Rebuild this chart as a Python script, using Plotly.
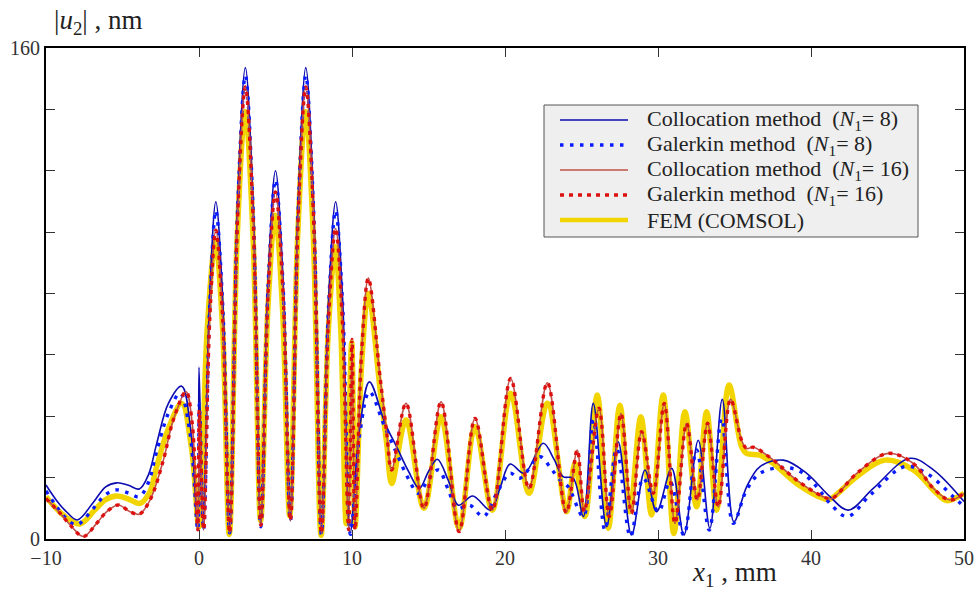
import plotly.graph_objects as go

# Surface displacement amplitude |u2| (nm) versus coordinate x1 (mm).
# Each series is a list of (x1, |u2|) pairs.
colloc8 = [
    (-10, 17.6), (-9.3, 12.5), (-8.65, 8.8), (-7.95, 6.2), (-6.9, 12.0), (-6.1, 17.0),
    (-5.38, 18.3), (-4.6, 17.5), (-3.9, 16.3), (-3.3, 21.0), (-2.77, 31.0), (-2.0, 44.2),
    (-1.13, 49.8), (-0.55, 36.0), (-0.08, 3.0), (0.0, 56.0), (0.28, 3.0), (0.69, 78.0),
    (1.1, 109.9), (1.55, 78.0), (2.0, 2.5), (2.52, 109.0), (3.03, 153.6), (3.54, 109.0),
    (4.04, 4.5), (4.52, 85.0), (5.0, 120.0), (5.49, 85.0), (5.97, 6.0), (6.48, 109.0),
    (6.98, 153.6), (7.49, 109.0), (8.0, 1.8), (8.47, 78.0), (8.93, 109.9), (9.39, 78.0),
    (9.88, 2.0), (10.5, 36.0), (11.14, 51.2), (12.16, 37.7), (12.92, 30.0), (13.7, 22.0),
    (14.4, 16.5), (15.0, 22.0), (15.58, 26.0), (16.3, 19.0), (16.95, 11.0), (17.89, 14.0),
    (19.05, 9.4), (19.7, 17.0), (20.33, 24.4), (21.26, 21.4), (22.5, 31.2), (23.2, 26.0),
    (23.8, 20.3), (24.46, 19.8), (25.12, 7.3), (25.77, 44.2), (26.64, 4.0), (27.4, 31.7),
    (28.27, 1.3), (29.15, 22.5), (29.91, 8.9), (30.89, 23.0), (31.69, 1.3), (32.63, 32.2),
    (33.39, 3.5), (34.2, 45.5), (34.96, 5.6), (35.79, 17.0), (36.67, 23.6), (38.19, 25.7),
    (39.72, 21.4), (41.24, 13.8), (42.44, 9.4), (44.07, 16.5), (46.47, 26.3), (48.0, 22.5),
    (50.0, 12.2),
]

galerkin8 = [
    (-10, 15.7), (-9.3, 10.5), (-8.7, 6.8), (-8.0, 4.6), (-6.9, 10.0), (-6.1, 14.5),
    (-5.38, 16.0), (-4.6, 15.0), (-3.9, 13.8), (-3.3, 18.5), (-2.8, 28.0), (-2.0, 41.0),
    (-1.24, 47.5), (-0.6, 35.0), (-0.08, 3.0), (0.02, 44.0), (0.3, 3.0), (0.7, 76.0),
    (1.1, 107.0), (1.55, 76.0), (2.0, 2.0), (2.52, 107.0), (3.03, 151.0), (3.54, 107.0),
    (4.04, 4.0), (4.52, 83.0), (5.0, 117.0), (5.49, 83.0), (5.97, 6.0), (6.48, 107.0),
    (6.98, 151.0), (7.49, 107.0), (8.0, 1.5), (8.47, 76.0), (8.93, 107.0), (9.39, 76.0),
    (9.9, 1.5), (10.5, 34.0), (11.14, 48.0), (12.1, 37.0), (12.92, 27.9), (13.7, 19.5),
    (14.34, 14.9), (15.0, 19.5), (15.65, 22.5), (16.3, 16.0), (16.85, 10.0), (17.7, 11.0),
    (18.58, 7.3), (19.46, 14.9), (20.33, 21.4), (20.98, 19.8), (22.29, 26.8), (23.0, 23.0),
    (23.6, 19.2), (24.13, 17.0), (25.12, 7.3), (25.77, 38.8), (26.53, 2.9), (27.3, 29.5),
    (28.2, 0.8), (29.04, 19.8), (30.02, 8.9), (30.78, 18.7), (31.69, 1.3), (32.52, 29.0),
    (33.35, 2.9), (34.16, 39.3), (34.92, 5.1), (35.79, 16.0), (36.67, 21.4), (38.19, 23.3),
    (39.3, 22.0), (40.37, 17.0), (41.24, 11.6), (42.37, 7.3), (43.86, 14.3), (46.14, 23.6),
    (47.56, 21.4), (49.3, 13.8), (50.0, 10.5),
]

colloc16 = [
    (-10, 13.2), (-9.08, 8.4), (-8.32, 4.0), (-7.56, 0.8), (-6.69, 5.1), (-6.03, 8.9),
    (-5.27, 11.1), (-4.51, 8.9), (-3.9, 8.1), (-3.2, 12.7), (-2.33, 25.7), (-1.68, 38.8),
    (-0.85, 48.0), (-0.45, 38.0), (-0.08, 3.0), (0.02, 42.0), (0.3, 3.0), (0.7, 71.4),
    (1.1, 100.6), (1.55, 71.4), (2.0, 2.0), (2.52, 104.6), (3.03, 147.3), (3.54, 104.6),
    (4.04, 4.5), (4.52, 80.3), (5.0, 113.1), (5.49, 80.3), (5.97, 6.0), (6.48, 104.6),
    (6.98, 147.3), (7.49, 104.6), (8.0, 1.8), (8.47, 71.9), (8.93, 101.2), (9.36, 71.9),
    (9.78, 3.0), (10.0, 65.0), (10.2, 3.0), (10.62, 60.0), (11.07, 85.0), (11.83, 52.9),
    (12.27, 34.4), (12.59, 22.5), (13.53, 44.2), (14.7, 10.0), (15.82, 44.7), (17.0, 2.4),
    (18.04, 39.3), (19.17, 9.4), (20.37, 52.3), (21.57, 16.5), (22.77, 50.9), (24.0, 8.6),
    (24.72, 29.0), (25.18, 9.0), (26.14, 42.6), (26.81, 7.3), (27.58, 40.9), (28.27, 8.4),
    (28.93, 35.0), (29.69, 14.9), (30.41, 44.2), (31.11, 5.1), (31.87, 37.7), (32.57, 12.7),
    (33.24, 37.7), (33.94, 10.5), (34.74, 45.5), (35.46, 32.2), (35.79, 29.5), (36.23, 29.9),
    (37.54, 25.7), (39.06, 19.2), (40.8, 13.8), (41.35, 13.2), (42.99, 21.4), (45.05, 27.9),
    (46.69, 24.6), (48.0, 16.5), (49.09, 12.7), (50.0, 14.9),
]

# With N1 = 16 both methods give the same curve at this scale
galerkin16 = [
    (-10, 13.2), (-9.08, 8.4), (-8.32, 4.0), (-7.56, 0.8), (-6.69, 5.1), (-6.03, 8.9),
    (-5.27, 11.1), (-4.51, 8.9), (-3.9, 8.1), (-3.2, 12.7), (-2.33, 25.7), (-1.68, 38.8),
    (-0.85, 48.0), (-0.45, 38.0), (-0.08, 3.0), (0.02, 42.0), (0.3, 3.0), (0.7, 71.4),
    (1.1, 100.6), (1.55, 71.4), (2.0, 2.0), (2.52, 104.6), (3.03, 147.3), (3.54, 104.6),
    (4.04, 4.5), (4.52, 80.3), (5.0, 113.1), (5.49, 80.3), (5.97, 6.0), (6.48, 104.6),
    (6.98, 147.3), (7.49, 104.6), (8.0, 1.8), (8.47, 71.9), (8.93, 101.2), (9.36, 71.9),
    (9.78, 3.0), (10.0, 65.0), (10.2, 3.0), (10.62, 60.0), (11.07, 85.0), (11.83, 52.9),
    (12.27, 34.4), (12.59, 22.5), (13.53, 44.2), (14.7, 10.0), (15.82, 44.7), (17.0, 2.4),
    (18.04, 39.3), (19.17, 9.4), (20.37, 52.3), (21.57, 16.5), (22.77, 50.9), (24.0, 8.6),
    (24.72, 29.0), (25.18, 9.0), (26.14, 42.6), (26.81, 7.3), (27.58, 40.9), (28.27, 8.4),
    (28.93, 35.0), (29.69, 14.9), (30.41, 44.2), (31.11, 5.1), (31.87, 37.7), (32.57, 12.7),
    (33.24, 37.7), (33.94, 10.5), (34.74, 45.5), (35.46, 32.2), (35.79, 29.5), (36.23, 29.9),
    (37.54, 25.7), (39.06, 19.2), (40.8, 13.8), (41.35, 13.2), (42.99, 21.4), (45.05, 27.9),
    (46.69, 24.6), (48.0, 16.5), (49.09, 12.7), (50.0, 14.9),
]

fem = [
    (-10, 13.8), (-8.8, 7.5), (-7.78, 4.9), (-6.8, 9.5), (-6.1, 12.8), (-5.38, 14.0),
    (-4.6, 13.0), (-3.86, 11.6), (-3.2, 15.5), (-2.8, 23.0), (-2.0, 36.0), (-1.13, 44.2),
    (-0.5, 30.0), (0.0, 4.0), (0.54, 68.7), (1.08, 96.8), (1.54, 68.7), (1.98, 1.5),
    (2.5, 98.8), (3.02, 139.2), (3.53, 98.8), (4.03, 6.0), (4.5, 74.9), (4.98, 105.5),
    (5.46, 74.9), (5.93, 7.5), (6.45, 98.8), (6.97, 139.2), (7.47, 98.8), (7.98, 1.2),
    (8.45, 67.6), (8.91, 95.2), (9.27, 67.6), (9.62, 5.0), (9.98, 64.0), (10.2, 4.0),
    (10.62, 56.0), (11.07, 80.0), (11.83, 49.0), (12.27, 31.0), (12.6, 18.1), (13.53, 38.8),
    (14.7, 10.0), (15.82, 39.8), (17.0, 3.5), (18.04, 36.6), (19.17, 9.4), (20.37, 47.5),
    (21.57, 14.9), (22.77, 44.2), (24.03, 8.9), (24.57, 24.6), (25.22, 7.3), (26.03, 46.9),
    (26.75, 3.5), (27.51, 43.6), (28.16, 8.9), (28.88, 39.8), (29.58, 7.8), (30.34, 46.9),
    (31.04, 1.8), (31.76, 41.5), (32.52, 10.5), (33.18, 41.5), (33.83, 9.4), (34.64, 50.2),
    (35.46, 30.1), (35.79, 27.9), (36.66, 27.3), (37.54, 24.6), (39.06, 18.1), (40.8, 13.2),
    (41.2, 12.9), (42.99, 20.3), (44.84, 25.7), (46.69, 22.5), (48.21, 14.9), (48.87, 12.5),
    (50.0, 14.9),
]

x_ticks = [-10, 0, 10, 20, 30, 40, 50]
y_ticks = [0, 160]
y_minor_step = 20

SERIF = "Liberation Serif, Times New Roman, serif"
W, H = 979, 595
M_L, M_R, M_T, M_B = 46, 15, 48, 56
PLOT_W, PLOT_H = W - M_L - M_R, H - M_T - M_B


def px_x(p):
    """Horizontal pixel position -> paper fraction."""
    return (p - M_L) / PLOT_W


def px_y(p):
    """Vertical pixel position (from top) -> paper fraction."""
    return (H - M_B - p) / PLOT_H


def xy(pairs):
    xs, ys = zip(*pairs)
    return list(xs), list(ys)


# (data, legend label, colour, width, dash, legend row); traces drawn in list order
series = [
    (fem, "FEM (COMSOL)", "#f2d500", 5.5, "solid", 4),
    (colloc8, "Collocation method  (<i>N</i><sub>1</sub>= 8)", "#0b0bb0", 1.6, "solid", 0),
    (galerkin8, "Galerkin method  (<i>N</i><sub>1</sub>= 8)", "#0a1cff", 3.4, "3.5px,6.5px", 1),
    (colloc16, "Collocation method  (<i>N</i><sub>1</sub>= 16)", "#c0504a", 1.6, "solid", 2),
    (galerkin16, "Galerkin method  (<i>N</i><sub>1</sub>= 16)", "#dd1010", 3.4, "4px,5px", 3),
]

fig = go.Figure()
for data, name, color, width, dash, row in series:
    xs, ys = xy(data)
    fig.add_trace(go.Scatter(
        x=xs, y=ys, mode="lines", name=name, showlegend=False,
        line=dict(color=color, width=width, dash=dash, shape="spline", smoothing=1.0),
    ))

# Legend box drawn as a framed panel with line samples and labels
LEG_L, LEG_R, LEG_T, LEG_B = 544, 918, 105, 237
ROW_Y = [120, 145, 170, 195, 220]
SAMPLE_L, SAMPLE_R, TEXT_L = 560, 628, 645

shapes = [dict(
    type="rect", xref="paper", yref="paper",
    x0=px_x(LEG_L), x1=px_x(LEG_R), y0=px_y(LEG_B), y1=px_y(LEG_T),
    fillcolor="#efefef", line=dict(color="#555", width=1), layer="above",
)]
annotations = []
for data, name, color, width, dash, row in series:
    yy = px_y(ROW_Y[row])
    shapes.append(dict(
        type="line", xref="paper", yref="paper",
        x0=px_x(SAMPLE_L), x1=px_x(SAMPLE_R), y0=yy, y1=yy,
        line=dict(color=color, width=min(width, 4.5), dash=dash), layer="above",
    ))
    annotations.append(dict(
        text=name, xref="paper", yref="paper", x=px_x(TEXT_L), y=yy,
        xanchor="left", yanchor="middle", showarrow=False,
        font=dict(family=SERIF, size=22, color="#222"),
    ))

annotations += [
    dict(text="|<i>u</i><sub>2</sub>| , nm", xref="paper", yref="paper",
         x=px_x(52), y=px_y(22), xanchor="left", yanchor="middle", showarrow=False,
         font=dict(family=SERIF, size=27, color="#222")),
    dict(text="<i>x</i><sub>1</sub> , mm", xref="paper", yref="paper",
         x=px_x(734), y=px_y(574), xanchor="center", yanchor="middle", showarrow=False,
         font=dict(family=SERIF, size=27, color="#222")),
]

axis_common = dict(
    showgrid=False, zeroline=False, showline=True, linecolor="black", linewidth=2,
    mirror="ticks", ticks="inside", ticklen=9, tickwidth=1, tickcolor="#333",
    tickfont=dict(family=SERIF, size=20, color="#333"), automargin=False,
)

fig.update_layout(
    width=W, height=H,
    margin=dict(l=M_L, r=M_R, t=M_T, b=M_B, autoexpand=False),
    paper_bgcolor="white", plot_bgcolor="white",
    xaxis=dict(range=[-10, 50], tickvals=x_ticks, **axis_common),
    yaxis=dict(
        range=[0, 160], tickvals=y_ticks,
        minor=dict(tick0=0, dtick=y_minor_step, ticks="inside", ticklen=9,
                   tickwidth=1, tickcolor="#333", showgrid=False),
        **axis_common,
    ),
    showlegend=False,
    shapes=shapes,
    annotations=annotations,
)

fig.write_html("out.html")
